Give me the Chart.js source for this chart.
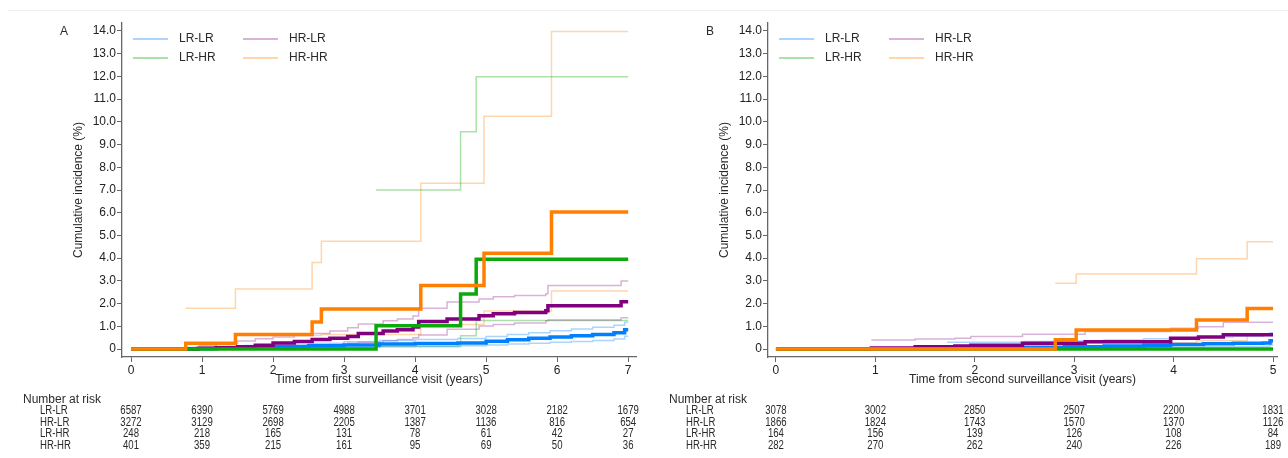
<!DOCTYPE html>
<html>
<head>
<meta charset="utf-8">
<script src="https://cdn.jsdelivr.net/npm/chart.js@4.4.1/dist/chart.umd.min.js"></script>
<style>
  html, body { margin: 0; padding: 0; background: #fff; }
  #wrap { position: relative; width: 1288px; height: 458px; overflow: hidden; }
  #topline { position: absolute; left: 8px; top: 10px; width: 1280px; height: 0; border-top: 1px solid #efefef; }
  canvas { position: absolute; top: 0; }
  #chartA { left: 0; }
  #chartB { left: 644px; }
</style>
</head>
<body>
<div id="wrap">
  <div id="topline"></div>
  <canvas id="chartA" width="644" height="458"></canvas>
  <canvas id="chartB" width="644" height="458"></canvas>
</div>
<script>
const groups = ['LR-LR', 'HR-LR', 'LR-HR', 'HR-HR'];
const yTicks = [0, 1, 2, 3, 4, 5, 6, 7, 8, 9, 10, 11, 12, 13, 14];

// panel A: time from first surveillance visit
const yearsA = [0, 1, 2, 3, 4, 5, 6, 7];
const riskA_LRLR = [6587, 6390, 5769, 4988, 3701, 3028, 2182, 1679];
const riskA_HRLR = [3272, 3129, 2698, 2205, 1387, 1136, 816, 654];
const riskA_LRHR = [248, 218, 165, 131, 78, 61, 42, 27];
const riskA_HRHR = [401, 359, 215, 161, 95, 69, 50, 36];

const tA_LRLR   = [0, 0.8, 1.2, 1.6, 2.0, 2.5, 3.0, 3.5, 4.0, 4.6, 5.0, 5.3, 5.6, 5.9, 6.2, 6.5, 6.8, 6.95, 7];
const estA_LRLR = [0, 0.01, 0.04, 0.07, 0.1, 0.14, 0.18, 0.22, 0.24, 0.27, 0.34, 0.41, 0.47, 0.53, 0.58, 0.64, 0.72, 0.85, 0.85];
const loA_LRLR  = [null, 0, 0.01, 0.02, 0.03, 0.05, 0.08, 0.11, 0.12, 0.14, 0.18, 0.22, 0.26, 0.3, 0.33, 0.38, 0.44, 0.56, 0.56];
const hiA_LRLR  = [null, 0.08, 0.12, 0.16, 0.2, 0.26, 0.32, 0.38, 0.42, 0.46, 0.55, 0.64, 0.72, 0.8, 0.88, 0.96, 1.05, 1.18, 1.18];

const tA_HRLR   = [0, 0.95, 1.2, 1.5, 1.75, 2.0, 2.3, 2.55, 2.8, 3.05, 3.2, 3.55, 3.75, 3.97, 4.05, 4.45, 4.9, 5.1, 5.4, 5.84, 5.87, 6.9, 7];
const estA_HRLR = [0, 0.04, 0.06, 0.1, 0.17, 0.27, 0.33, 0.42, 0.48, 0.55, 0.68, 0.79, 0.85, 0.97, 1.21, 1.32, 1.47, 1.55, 1.61, 1.69, 1.91, 2.08, 2.08];
const loA_HRLR  = [null, 0, 0.01, 0.02, 0.04, 0.08, 0.12, 0.16, 0.2, 0.26, 0.3, 0.36, 0.42, 0.5, 0.62, 0.87, 1.01, 1.08, 1.15, 1.24, 1.28, 1.38, 1.38];
const hiA_HRLR  = [null, 0.15, 0.25, 0.35, 0.45, 0.53, 0.6, 0.68, 0.79, 0.94, 1.1, 1.25, 1.32, 1.45, 1.8, 2.07, 2.2, 2.3, 2.36, 2.43, 2.8, 3.0, 3.0];

const tA_LRHR   = [0, 3.45, 4.64, 4.86, 7];
const estA_LRHR = [0, 1.02, 2.42, 3.95, 3.95];
const loA_LRHR  = [null, 0.1, 0.59, 1.26, 1.26];
const hiA_LRHR  = [null, 7.0, 9.56, 11.98, 11.98];

const tA_HRHR   = [0, 0.77, 1.47, 2.55, 2.68, 4.08, 4.97, 5.92, 7];
const estA_HRHR = [0, 0.26, 0.64, 1.19, 1.76, 2.8, 4.22, 6.03, 6.03];
const loA_HRHR  = [null, null, null, 0.6, 0.64, 1.08, 1.67, 2.55, 2.55];
const hiA_HRHR  = [null, 1.8, 2.64, 3.81, 4.74, 7.3, 10.25, 13.98, 13.98];

// panel B: time from second surveillance visit
const yearsB = [0, 1, 2, 3, 4, 5];
const riskB_LRLR = [3078, 3002, 2850, 2507, 2200, 1831];
const riskB_HRLR = [1866, 1824, 1743, 1570, 1370, 1126];
const riskB_LRHR = [164, 156, 139, 126, 108, 84];
const riskB_HRHR = [282, 270, 262, 240, 226, 189];

const tB_LRLR   = [0, 1.72, 2.0, 2.5, 2.9, 3.3, 3.7, 3.97, 4.3, 4.6, 4.9, 4.97, 5];
const estB_LRLR = [0, 0.04, 0.06, 0.08, 0.1, 0.13, 0.17, 0.2, 0.23, 0.25, 0.27, 0.37, 0.37];
const loB_LRLR  = [null, 0, 0.01, 0.02, 0.03, 0.04, 0.06, 0.08, 0.1, 0.11, 0.12, 0.18, 0.18];
const hiB_LRLR  = [null, 0.3, 0.3, 0.33, 0.35, 0.4, 0.45, 0.5, 0.53, 0.56, 0.6, 0.72, 0.72];

const tB_HRLR   = [0, 0.96, 1.4, 1.8, 1.96, 2.48, 3.11, 3.97, 4.25, 4.5, 5];
const estB_HRLR = [0, 0.05, 0.1, 0.13, 0.17, 0.25, 0.32, 0.47, 0.53, 0.63, 0.63];
const loB_HRLR  = [null, 0, 0.01, 0.02, 0.04, 0.07, 0.1, 0.18, 0.22, 0.27, 0.27];
const hiB_HRLR  = [null, 0.4, 0.44, 0.47, 0.55, 0.65, 0.77, 0.92, 0.98, 1.18, 1.18];

const tB_LRHR   = [0, 5];
const estB_LRHR = [0, 0];
const loB_LRHR  = [null, null];
const hiB_LRHR  = [null, null];

const tB_HRHR   = [0, 2.81, 3.02, 4.23, 4.74, 5];
const estB_HRHR = [0, 0.41, 0.84, 1.28, 1.78, 1.78];
const loB_HRHR  = [null, 0.06, 0.28, 0.36, 0.62, 0.62];
const hiB_HRHR  = [null, 2.9, 3.3, 3.97, 4.72, 4.72];

const mainColors = ['rgb(0,128,255)', 'rgb(128,0,128)', 'rgb(12,168,12)', 'rgb(255,128,0)'];
const ciColors = ['rgba(0,128,255,0.33)', 'rgba(128,0,128,0.3)', 'rgba(12,168,12,0.35)', 'rgba(255,128,0,0.33)'];
const mainOrder = [3, 2, 1, 0];

const tickFont = { family: '"Liberation Sans", Arial, sans-serif', size: 12 };
const textFont = '12px "Liberation Sans", Arial, sans-serif';
const tableFont = '12px "Liberation Sans", Arial, sans-serif';

function pts(t, v) {
  return t.map((x, i) => ({ x: x, y: v[i] }));
}

function makeSets(series) {
  let sets = [];
  for (let g = 0; g < series.length; g++) {
    let s = series[g];
    sets.push({ label: groups[g] + ' upper', data: pts(s[0], s[3]), borderColor: ciColors[g], borderWidth: 1.5, order: 10 + g });
    sets.push({ label: groups[g] + ' lower', data: pts(s[0], s[2]), borderColor: ciColors[g], borderWidth: 1.5, order: 10 + g });
  }
  for (let g = 0; g < series.length; g++) {
    let s = series[g];
    sets.push({ label: groups[g], data: pts(s[0], s[1]), borderColor: mainColors[g], borderWidth: 3.5, order: mainOrder[g] });
  }
  sets.forEach(d => { d.stepped = true; d.pointRadius = 0; d.fill = false; d.spanGaps = false; });
  return sets;
}

// narrow text like the table in the figure
function narrowText(ctx, txt, x, y, align) {
  ctx.save();
  ctx.translate(x, y);
  ctx.scale(0.8, 1);
  ctx.textAlign = align;
  ctx.fillText(txt, 0, 0);
  ctx.restore();
}

function extras(letter, xTitle, years, risks) {
  return {
    id: 'extras' + letter,
    afterDraw(chart) {
      const ctx = chart.ctx;
      const a = chart.chartArea;
      const xs = chart.scales.x;
      ctx.save();
      ctx.fillStyle = '#2a2a2a';
      ctx.font = textFont;
      ctx.textBaseline = 'middle';
      ctx.textAlign = 'left';
      ctx.fillText(letter, a.left - 62, 32);

      // y title
      ctx.save();
      ctx.translate(a.left - 43, (a.top + a.bottom) / 2);
      ctx.rotate(-Math.PI / 2);
      ctx.textAlign = 'center';
      ctx.fillText('Cumulative incidence (%)', 0, 0);
      ctx.restore();

      // x title
      ctx.textAlign = 'center';
      ctx.fillText(xTitle, (a.left + a.right) / 2, 380);

      // legend, two columns
      const lx = [a.left + 11, a.left + 121];
      const ly = [a.top + 16, a.top + 35];
      for (let g = 0; g < 4; g++) {
        let col = g % 2, row = Math.floor(g / 2);
        ctx.strokeStyle = ciColors[g];
        ctx.lineWidth = 2;
        ctx.beginPath();
        ctx.moveTo(lx[col], ly[row]);
        ctx.lineTo(lx[col] + 35, ly[row]);
        ctx.stroke();
        ctx.textAlign = 'left';
        ctx.fillText(groups[g], lx[col] + 46, ly[row]);
      }

      // number at risk table
      ctx.textAlign = 'left';
      ctx.fillText('Number at risk', a.left - 99, 400);
      ctx.font = tableFont;
      const rowY = [411, 422.5, 434, 445.5];
      for (let r = 0; r < 4; r++) {
        narrowText(ctx, groups[r], a.left - 82, rowY[r], 'left');
        for (let i = 0; i < years.length; i++) {
          narrowText(ctx, String(risks[r][i]), xs.getPixelForValue(years[i]), rowY[r], 'center');
        }
      }
      ctx.restore();
    }
  };
}

function makeChart(id, series, xMin, xMax, years, yAxisWidth, padRight, letter, xTitle, risks) {
  const ctx = document.getElementById(id).getContext('2d');
  return new Chart(ctx, {
    type: 'line',
    data: { datasets: makeSets(series) },
    options: {
      responsive: false,
      animation: false,
      layout: { padding: { top: 23, right: padRight, left: 0, bottom: 0 } },
      plugins: { legend: { display: false }, tooltip: { enabled: false } },
      elements: { line: { tension: 0, borderCapStyle: 'butt' } },
      scales: {
        x: {
          type: 'linear', min: xMin, max: xMax,
          afterBuildTicks: s => { s.ticks = years.map(v => ({ value: v })); },
          afterFit: s => { s.height = 101; },
          ticks: { font: tickFont, color: '#222', padding: 1, maxRotation: 0, autoSkip: false },
          grid: { drawOnChartArea: false, drawTicks: true, tickLength: 5, color: '#666', lineWidth: 1 },
          border: { color: '#666', width: 1.3 }
        },
        y: {
          type: 'linear', min: -0.35, max: 14.35,
          afterBuildTicks: s => { s.ticks = yTicks.map(v => ({ value: v })); },
          afterFit: s => { s.width = yAxisWidth; },
          ticks: { font: tickFont, color: '#222', padding: 1, callback: v => v === 0 ? '0' : v.toFixed(1) },
          grid: { drawOnChartArea: false, drawTicks: true, tickLength: 5, color: '#666', lineWidth: 1 },
          border: { color: '#666', width: 1.3 }
        }
      }
    },
    plugins: [extras(letter, xTitle, years, risks)]
  });
}

makeChart('chartA',
  [[tA_LRLR, estA_LRLR, loA_LRLR, hiA_LRLR],
   [tA_HRLR, estA_HRLR, loA_HRLR, hiA_HRLR],
   [tA_LRHR, estA_LRHR, loA_LRHR, hiA_LRHR],
   [tA_HRHR, estA_HRHR, loA_HRHR, hiA_HRHR]],
  -0.127, 7.11, yearsA, 122, 8, 'A', 'Time from first surveillance visit (years)',
  [riskA_LRLR, riskA_HRLR, riskA_LRHR, riskA_HRHR]);

makeChart('chartB',
  [[tB_LRLR, estB_LRLR, loB_LRLR, hiB_LRLR],
   [tB_HRLR, estB_HRLR, loB_HRLR, hiB_HRLR],
   [tB_LRHR, estB_LRHR, loB_LRHR, hiB_LRHR],
   [tB_HRHR, estB_HRHR, loB_HRHR, hiB_HRHR]],
  -0.08, 5.04, yearsB, 124, 11, 'B', 'Time from second surveillance visit (years)',
  [riskB_LRLR, riskB_HRLR, riskB_LRHR, riskB_HRHR]);
</script>
</body>
</html>
